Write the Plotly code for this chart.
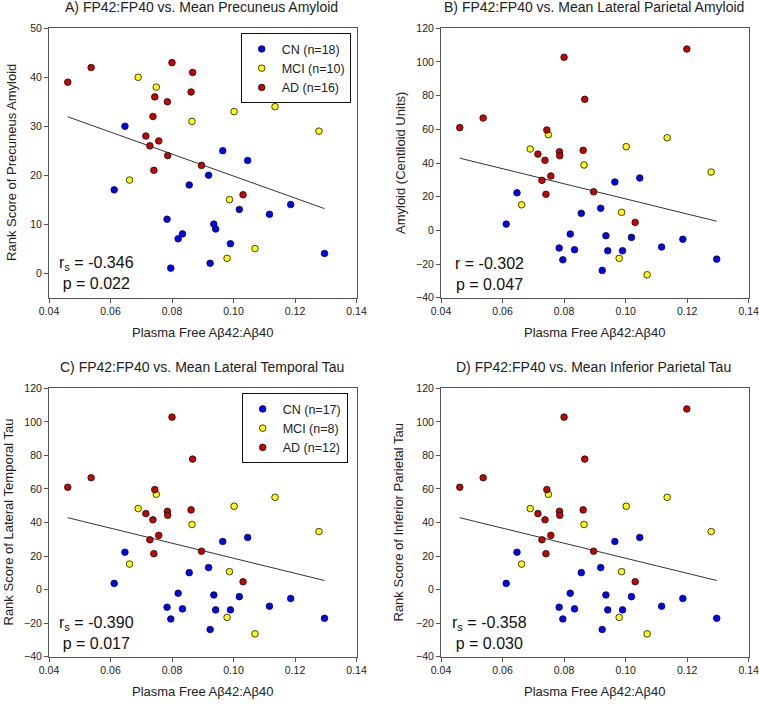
import numpy as np
import plotly.graph_objects as go

# ---------------- data ----------------
groups = ["CN", "MCI", "AD"]
colors = {"CN": "#0000FF", "MCI": "#FFFF00", "AD": "#CC0000"}

# Plasma free Abeta42:Abeta40 (shared x across panels)
x_cn = [0.0647, 0.0612, 0.0856, 0.0784, 0.0834, 0.0820, 0.0796, 0.0965, 0.1046,
        0.0919, 0.1019, 0.1117, 0.1186, 0.0936, 0.0942, 0.0990, 0.0924, 0.1296]
x_mci = [0.0690, 0.0749, 0.0865, 0.0662, 0.1002, 0.1135, 0.1278, 0.0987, 0.1070, 0.0979]
x_ad = [0.0461, 0.0537, 0.0800, 0.0867, 0.0862, 0.0744, 0.0785, 0.0786, 0.0738,
        0.0715, 0.0757, 0.0728, 0.0741, 0.0896, 0.1031, 0.1199]

# A) rank score of precuneus amyloid
precuneus_rank_cn = [30, 17, 18, 11, 8, 7, 1, 25, 23, 20, 13, 12, 14, 10, 9, 6, 2, 4]
precuneus_rank_mci = [40, 38, 31, 19, 33, 34, 29, 15, 5, 3]
precuneus_rank_ad = [39, 42, 43, 41, 37, 36, 35, 24, 32, 28, 27, 26, 21, 22, 16, 44]

# B) lateral parietal amyloid (centiloid)
lat_par_amy_cn = [22.3, 3.7, 10.1, -10.5, -11.5, -2.2, -17.5, 28.7, 31.1, 13.1,
                  -4.2, -9.9, -5.3, -3.2, -12.1, -12.1, -23.8, -17.1]
lat_par_amy_mci = [48.3, 56.8, 38.8, 15.2, 49.7, 55.0, 34.6, 10.7, -26.4, -16.6]
lat_par_amy_ad = [61.0, 66.7, 102.8, 77.8, 47.5, 59.6, 46.7, 44.3, 41.6, 45.3,
                  32.3, 29.7, 21.4, 22.9, 4.7, 107.7]

# C) rank score of lateral temporal tau (as drawn in the reference)
lat_temp_tau_cn = [22.3, 3.7, 10.1, -10.5, -11.5, -2.2, -17.5, 28.7, 31.1, 13.1,
                   -4.2, -9.9, -5.3, -3.2, -12.1, -12.1, -23.8, -17.1]
lat_temp_tau_mci = [48.3, 56.8, 38.8, 15.2, 49.7, 55.0, 34.6, 10.7, -26.4, -16.6]
lat_temp_tau_ad = [61.0, 66.7, 102.8, 77.8, 47.5, 59.6, 46.7, 44.3, 41.6, 45.3,
                   32.3, 29.7, 21.4, 22.9, 4.7, 107.7]

# D) rank score of inferior parietal tau (as drawn in the reference)
inf_par_tau_cn = [22.3, 3.7, 10.1, -10.5, -11.5, -2.2, -17.5, 28.7, 31.1, 13.1,
                  -4.2, -9.9, -5.3, -3.2, -12.1, -12.1, -23.8, -17.1]
inf_par_tau_mci = [48.3, 56.8, 38.8, 15.2, 49.7, 55.0, 34.6, 10.7, -26.4, -16.6]
inf_par_tau_ad = [61.0, 66.7, 102.8, 77.8, 47.5, 59.6, 46.7, 44.3, 41.6, 45.3,
                  32.3, 29.7, 21.4, 22.9, 4.7, 107.7]

legend_a = ["CN (n=18)", "MCI (n=10)", "AD (n=16)"]
legend_c = ["CN (n=17)", "MCI (n=8)", "AD (n=12)"]

titles = ["A) FP42:FP40 vs. Mean Precuneus Amyloid",
          "B) FP42:FP40 vs. Mean Lateral Parietal Amyloid",
          "C) FP42:FP40 vs. Mean Lateral Temporal Tau",
          "D) FP42:FP40 vs. Mean Inferior Parietal Tau"]
y_titles = ["Rank Score of Precuneus Amyloid", "Amyloid (Centiloid Units)",
            "Rank Score of Lateral Temporal Tau", "Rank Score of Inferior Parietal Tau"]
x_title = "Plasma Free A\u03b242:A\u03b240"
stats = ["r<sub>s</sub> = -0.346<br>p = 0.022",
         "r = -0.302<br>p = 0.047",
         "r<sub>s</sub> = -0.390<br>p = 0.017",
         "r<sub>s</sub> = -0.358<br>p = 0.030"]

# ---------------- figure ----------------
W, H = 759, 704
FONT = "Arial, 'Liberation Sans', sans-serif"

panels = [
    dict(ys=[precuneus_rank_cn, precuneus_rank_mci, precuneus_rank_ad], legend="legend", names=legend_a,
         xd=(49, 356.5), yd=(28.4, 297.5), yr=[-5, 50], dt=10, ytx=12),
    dict(ys=[lat_par_amy_cn, lat_par_amy_mci, lat_par_amy_ad], legend=None, names=legend_a,
         xd=(441, 748.7), yd=(28.3, 297.7), yr=[-40, 120], dt=20, ytx=400),
    dict(ys=[lat_temp_tau_cn, lat_temp_tau_mci, lat_temp_tau_ad], legend="legend2", names=legend_c,
         xd=(49, 356.5), yd=(388.3, 656.7), yr=[-40, 120], dt=20, ytx=8),
    dict(ys=[inf_par_tau_cn, inf_par_tau_mci, inf_par_tau_ad], legend=None, names=legend_c,
         xd=(441, 748.7), yd=(388.3, 656.7), yr=[-40, 120], dt=20, ytx=398),
]
xs = [x_cn, x_mci, x_ad]

fig = go.Figure()
layout = dict(width=W, height=H, margin=dict(l=0, r=0, t=0, b=0, pad=0, autoexpand=False),
              paper_bgcolor="white", plot_bgcolor="white",
              font=dict(family=FONT, color="#222"), annotations=[])

for i, p in enumerate(panels):
    k = "" if i == 0 else str(i + 1)
    xa, ya = "x" + k, "y" + k
    # regression line over the pooled data
    allx = np.concatenate([np.asarray(v, float) for v in xs])
    ally = np.concatenate([np.asarray(v, float) for v in p["ys"]])
    slope, icpt = np.polyfit(allx, ally, 1)
    lx = np.array([allx.min(), allx.max()])
    fig.add_trace(go.Scatter(x=lx, y=slope * lx + icpt, mode="lines",
                             line=dict(color="#333", width=1), showlegend=False,
                             hoverinfo="skip", xaxis=xa, yaxis=ya))
    for g, xv, yv, nm in zip(groups, xs, p["ys"], p["names"]):
        tr = dict(x=xv, y=yv, mode="markers", name=nm, xaxis=xa, yaxis=ya,
                  marker=dict(color=colors[g], size=6.6, line=dict(color="#111", width=0.8)))
        if p["legend"]:
            tr["legend"] = p["legend"]
            tr["showlegend"] = True
        else:
            tr["showlegend"] = False
        fig.add_trace(go.Scatter(**tr))

    axstyle = dict(showgrid=False, zeroline=False, showline=True, mirror=True,
                   linecolor="#555", linewidth=1, ticks="outside", ticklen=4,
                   tickcolor="#555", automargin=False, ticklabeloverflow="allow",
                   tickfont=dict(size=10.5, family=FONT, color="#222"))
    layout["xaxis" + k] = dict(axstyle, domain=[p["xd"][0] / W, p["xd"][1] / W],
                               range=[0.04, 0.14], dtick=0.02, tick0=0.04, tickformat=".2f",
                               anchor=ya)
    layout["yaxis" + k] = dict(axstyle, domain=[1 - p["yd"][1] / H, 1 - p["yd"][0] / H],
                               range=p["yr"], dtick=p["dt"], tick0=0, anchor=xa)

    xc = (p["xd"][0] + p["xd"][1]) / 2
    yc = (p["yd"][0] + p["yd"][1]) / 2
    top = p["yd"][0]
    bot = p["yd"][1]
    # panel title
    layout["annotations"].append(dict(text=titles[i], x=(xc - 1) / W, y=1 - (top - 21) / H,
                                      xref="paper", yref="paper", showarrow=False,
                                      xanchor="center", yanchor="middle",
                                      font=dict(size=14, family=FONT, color="#222")))
    # y title
    layout["annotations"].append(dict(text=y_titles[i], x=p["ytx"] / W, y=1 - yc / H,
                                      xref="paper", yref="paper", showarrow=False,
                                      textangle=-90, xanchor="center", yanchor="middle",
                                      font=dict(size=13, family=FONT, color="#222")))
    # x title
    layout["annotations"].append(dict(text=x_title, x=xc / W, y=1 - (bot + 35) / H,
                                      xref="paper", yref="paper", showarrow=False,
                                      xanchor="center", yanchor="middle",
                                      font=dict(size=13, family=FONT, color="#222")))
    # stats
    sx = p["xd"][0] + 47 if i in (0, 2) else p["xd"][0] + 48
    layout["annotations"].append(dict(text=stats[i], x=sx / W, y=1 - (bot - 24) / H,
                                      xref="paper", yref="paper", showarrow=False,
                                      xanchor="center", yanchor="middle", align="center",
                                      font=dict(size=16, family=FONT, color="#111")))

leg = dict(bgcolor="white", bordercolor="#111", borderwidth=1,
           font=dict(size=12.5, family=FONT, color="#222"),
           xanchor="left", yanchor="top", itemwidth=30, tracegroupgap=0)
layout["legend"] = dict(leg, x=240.7 / W, y=1 - 33.3 / H)
layout["legend2"] = dict(leg, x=241.7 / W, y=1 - 393.3 / H)
layout["showlegend"] = True

fig.update_layout(**layout)
fig.write_html("out.html", config={"displayModeBar": False},
               post_script="document.body.style.margin='0';document.body.style.padding='0';"
                           "document.body.style.overflow='hidden';")
